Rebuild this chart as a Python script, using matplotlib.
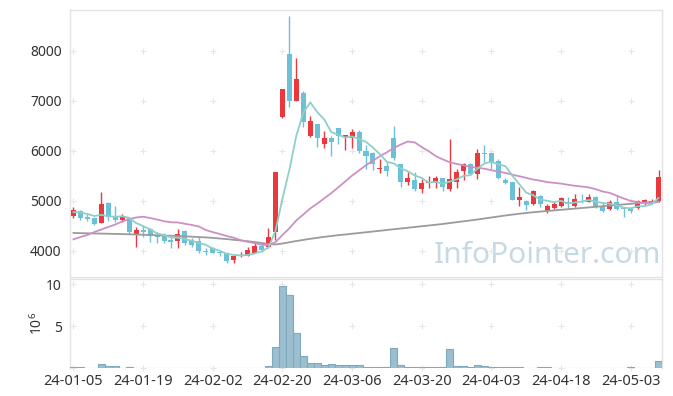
import numpy as np
import pandas as pd
import matplotlib
matplotlib.use("Agg")
import matplotlib.pyplot as plt

plt.rcParams['font.family'] = ['Noto Sans', 'DejaVu Sans']
plt.rcParams['mathtext.default'] = 'regular'

# daily OHLC, 24-01-05 .. 24-05-10 (trading days)
opens = [4707, 4800, 4680, 4660, 4567, 4960, 4687, 4627, 4667, 4313,
         4413, 4440, 4320, 4300, 4230, 4207, 4400, 4220, 4207, 4000,
         4067, 3987, 3967, 3820, 3900, 3907, 3967, 4100, 4073, 4387,
         6673, 7940, 7007, 7160, 6300, 6540, 6147, 6267, 6453, 6287,
         6253, 6373, 6000, 5953, 5633, 5700, 6260, 5733, 5387, 5420,
         5233, 5360, 5367, 5453, 5240, 5387, 5600, 5740, 5533, 5967,
         5953, 5800, 5420, 5373, 5020, 5000, 4933, 5100, 4800, 4853,
         4907, 4987, 4907, 5007, 4987, 5073, 4900, 4833, 4987, 4867,
         4847, 4853, 4973, 4967, 5007]
highs = [4880, 4827, 4733, 4687, 5173, 4987, 4893, 4747, 4687, 4473,
         4520, 4467, 4387, 4353, 4290, 4433, 4420, 4267, 4287, 4053,
         4073, 4000, 3987, 3920, 3987, 4087, 4153, 4133, 4453, 5573,
         7240, 8700, 7867, 7200, 6700, 6540, 6407, 6307, 6453, 6320,
         6440, 6420, 6120, 5987, 5833, 5787, 6500, 5747, 5587, 5587,
         5440, 5500, 5507, 5453, 6233, 5633, 5753, 5753, 6040, 6120,
         5967, 5833, 5467, 5387, 5287, 5020, 5220, 5120, 4933, 4987,
         5087, 5073, 5133, 5133, 5133, 5100, 4987, 5020, 5100, 4887,
         4887, 5020, 5033, 5033, 5620]
lows = [4653, 4620, 4600, 4520, 4553, 4600, 4587, 4587, 4333, 4080,
        4287, 4187, 4153, 4153, 4055, 4053, 4120, 4073, 3953, 3920,
        3953, 3907, 3753, 3753, 3873, 3900, 3953, 3987, 4060, 4220,
        6653, 6873, 7007, 6473, 6287, 6087, 6053, 5900, 6133, 6020,
        6067, 5967, 5640, 5620, 5553, 5500, 5820, 5287, 5320, 5200,
        5153, 5253, 5253, 5200, 5200, 5267, 5420, 5520, 5433, 5787,
        5633, 5433, 5340, 5020, 4900, 4820, 4920, 4887, 4753, 4833,
        4887, 4853, 4887, 4953, 4973, 4853, 4787, 4820, 4820, 4687,
        4767, 4833, 4920, 4953, 4987]
closes = [4827, 4667, 4647, 4547, 4933, 4673, 4627, 4693, 4387, 4413,
          4380, 4300, 4287, 4207, 4190, 4340, 4167, 4120, 4000, 3987,
          3967, 3953, 3807, 3900, 3920, 4020, 4100, 4020, 4287, 5573,
          7240, 7007, 7433, 6587, 6600, 6267, 6267, 6187, 6307, 6320,
          6373, 6007, 5900, 5733, 5667, 5607, 5853, 5387, 5467, 5233,
          5367, 5387, 5460, 5287, 5433, 5587, 5740, 5533, 5953, 5940,
          5767, 5467, 5367, 5020, 5073, 4920, 5200, 4933, 4900, 4933,
          5053, 4933, 5040, 4987, 5087, 4873, 4807, 4987, 4833, 4833,
          4807, 5000, 5020, 5007, 5473]
# volume in millions of shares
volume = [0.15, 0.15, 0.02, 0.02, 0.42, 0.18, 0.18, 0.02, 0.15, 0.02,
          0.02, 0.02, 0.02, 0.02, 0.02, 0.02, 0.02, 0.02, 0.02, 0.02,
          0.02, 0.02, 0.02, 0.02, 0.02, 0.02, 0.02, 0.05, 0.18, 2.45,
          9.75, 8.65, 4.15, 1.4, 0.56, 0.56, 0.35, 0.45, 0.3, 0.3,
          0.3, 0.3, 0.15, 0.15, 0.15, 0.15, 2.35, 0.4, 0.12, 0.12,
          0.12, 0.12, 0.12, 0.12, 2.25, 0.28, 0.28, 0.12, 0.4, 0.28,
          0.12, 0.12, 0.12, 0.12, 0.12, 0.02, 0.02, 0.12, 0.12, 0.02,
          0.02, 0.02, 0.02, 0.02, 0.02, 0.02, 0.02, 0.02, 0.02, 0.02,
          0.12, 0.02, 0.02, 0.02, 0.8]

# moving averages: the first points depend on days before the chart
ma5_head = [4780, 4770, 4740, 4700]
ma20_head = [4233, 4280, 4320, 4380, 4430, 4480, 4530, 4590, 4640, 4670,
             4685, 4660, 4630, 4595, 4575, 4570, 4545, 4520, 4490]
ma120 = [4360, 4357, 4354, 4351, 4348, 4345, 4342, 4338, 4334, 4330,
         4325, 4320, 4315, 4310, 4305, 4300, 4293, 4286, 4279, 4272,
         4262, 4250, 4238, 4224, 4210, 4195, 4180, 4160, 4140, 4130,
         4150, 4175, 4200, 4222, 4244, 4264, 4283, 4300, 4316, 4330,
         4345, 4360, 4375, 4390, 4405, 4420, 4435, 4450, 4465, 4480,
         4495, 4510, 4525, 4540, 4558, 4576, 4594, 4612, 4630, 4650,
         4670, 4690, 4710, 4728, 4745, 4760, 4775, 4788, 4800, 4812,
         4824, 4836, 4848, 4860, 4872, 4884, 4896, 4908, 4920, 4932,
         4944, 4956, 4968, 4980, 4992]

tick_labels = ['24-01-05', '24-01-19', '24-02-02', '24-02-20', '24-03-06',
               '24-03-20', '24-04-03', '24-04-18', '24-05-03']

df = pd.DataFrame({'open': opens, 'high': highs, 'low': lows, 'close': closes, 'vol': volume})
x = np.arange(len(df))
ma5 = df['close'].rolling(5).mean().to_numpy()
ma5[:len(ma5_head)] = ma5_head
ma20 = df['close'].rolling(20).mean().to_numpy()
ma20[:len(ma20_head)] = ma20_head

UP = '#e9393e'
DOWN = '#6cc1d8'
GRID = '#e6e6e6'
EDGE = '#e3e3e3'

fig = plt.figure(figsize=(6.73, 3.96), dpi=100)
ax = fig.add_axes([70 / 673, 119 / 396, 592 / 673, 267 / 396])
axv = fig.add_axes([70 / 673, 28 / 396, 592 / 673, 89 / 396], sharex=ax)

up = df['close'] >= df['open']
colors = np.where(up, UP, DOWN)
body_lo = np.minimum(df['open'], df['close'])
body_h = np.maximum((df['close'] - df['open']).abs(), 15)
ax.vlines(x, df['low'], df['high'], colors=colors, linewidth=1.0, zorder=2)
ax.bar(x, body_h, bottom=body_lo, width=0.72, color=colors, linewidth=0, zorder=3)

ax.plot(x, ma120, color='#9b9b9b', linewidth=1.3, zorder=4)
ax.plot(x, ma20, color='#cc90c5', linewidth=1.3, zorder=4)
ax.plot(x, ma5, color='#8ecfc7', linewidth=1.3, zorder=4)

axv.bar(x, df['vol'], width=1.0, color='#9bbfcf', edgecolor='#7eaabd', linewidth=0.8, zorder=3)

ax.set_xlim(-0.5, 84.5)
ax.set_ylim(3480, 8820)
axv.set_ylim(0, 10.6)

yt = [4000, 5000, 6000, 7000, 8000]
ax.set_yticks(yt)
axv.set_yticks([5, 10])
xt = np.arange(0, len(tick_labels) * 10, 10)
axv.set_xticks(xt)
axv.set_xticklabels(tick_labels)
ax.tick_params(axis='x', labelbottom=False, length=0)
ax.tick_params(axis='y', length=0, pad=6, labelsize=10, labelcolor='#333333')
axv.tick_params(length=0, pad=6, labelsize=10, labelcolor='#333333')
axv.tick_params(axis='x', pad=4, labelsize=10.5)
axv.set_ylabel('10$^6$', fontsize=10, color='#333333', labelpad=0)

# faint "+" grid marks
gx, gy = np.meshgrid(xt, yt)
ax.scatter(gx.ravel(), gy.ravel(), marker='+', s=14, color=GRID, linewidths=0.8, zorder=1)
gx, gy = np.meshgrid(xt, [0, 5, 10])
axv.scatter(gx.ravel(), gy.ravel(), marker='+', s=14, color=GRID, linewidths=0.8, zorder=1, clip_on=False)

for a in (ax, axv):
    for s in a.spines.values():
        s.set_color(EDGE)
        s.set_linewidth(1)
axv.spines['bottom'].set_visible(False)

ax.text(0.806, 0.079, 'InfoPointer.com', transform=ax.transAxes, ha='center', va='center',
        fontsize=21.5, color='#c7d9e4', zorder=0)

fig.savefig('out.png', dpi=100)
